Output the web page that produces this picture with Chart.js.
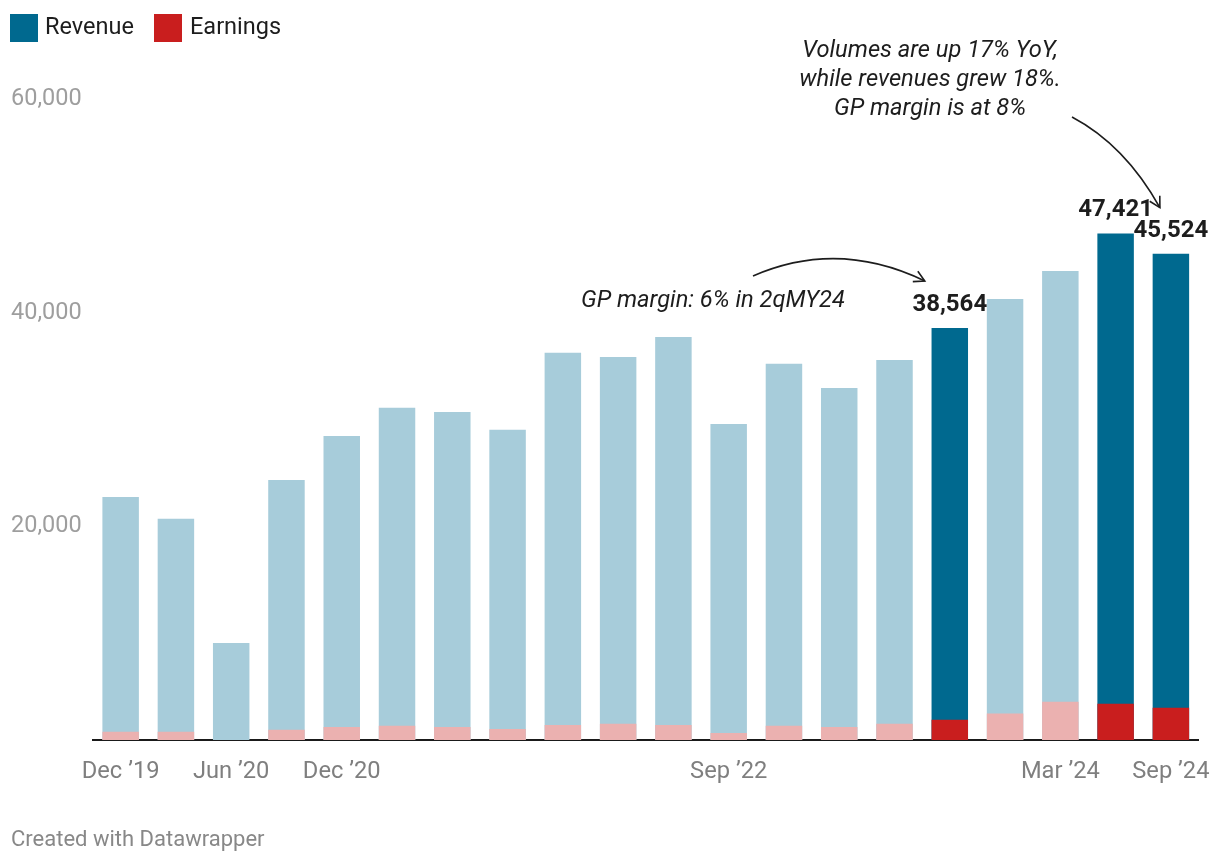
<!DOCTYPE html>
<html>
<head>
<meta charset="utf-8">
<script src="https://cdn.jsdelivr.net/npm/chart.js@4.4.1/dist/chart.umd.min.js"></script>
<style>
  html, body { margin: 0; padding: 0; background: #fff; }
  #wrap { width: 1220px; height: 866px; position: relative; }
</style>
</head>
<body>
<div id="wrap"><canvas id="revChart" width="1220" height="866"></canvas></div>
<script>
// quarterly data
var quarters = ["Dec ’19", "Mar ’20", "Jun ’20", "Sep ’20", "Dec ’20", "Mar ’21", "Jun ’21", "Sep ’21",
    "Dec ’21", "Mar ’22", "Jun ’22", "Sep ’22", "Dec ’22", "Mar ’23", "Jun ’23", "Sep ’23",
    "Dec ’23", "Mar ’24", "Jun ’24", "Sep ’24"];
var shownTicks = ["Dec ’19", "Jun ’20", "Dec ’20", "Sep ’22", "Mar ’24", "Sep ’24"];
var revenue = [22750, 20700, 9080, 24340, 28460, 31090, 30710, 29030, 36240, 35860,
    37730, 29590, 35210, 32960, 35580, 38564, 41290, 43910, 47421, 45524];
var earnings = [780, 780, 0, 970, 1220, 1340, 1220, 1030, 1400, 1530,
    1400, 660, 1340, 1220, 1530, 1900, 2470, 3590, 3400, 3030];
var highlighted = ["Sep ’23", "Jun ’24", "Sep ’24"];
var yTicks = [0, 20000, 40000, 60000];

var FONT = 'Roboto, "Noto Sans", sans-serif';
var revDark = '#00698f', revLight = '#a7ccda';
var earnDark = '#c91e1e', earnLight = '#ebb1b0';

function isHi(i) { return highlighted.indexOf(quarters[i]) !== -1; }

function arrow(ctx, x0, y0, cx, cy, x1, y1) {
    ctx.save();
    ctx.strokeStyle = '#1d1d1d';
    ctx.lineWidth = 1.6;
    ctx.beginPath();
    ctx.moveTo(x0, y0);
    ctx.quadraticCurveTo(cx, cy, x1, y1);
    ctx.stroke();
    var ang = Math.atan2(y1 - cy, x1 - cx);
    var len = 12;
    ctx.beginPath();
    ctx.moveTo(x1 - len * Math.cos(ang - 0.5), y1 - len * Math.sin(ang - 0.5));
    ctx.lineTo(x1, y1);
    ctx.lineTo(x1 - len * Math.cos(ang + 0.5), y1 - len * Math.sin(ang + 0.5));
    ctx.stroke();
    ctx.restore();
}

var extras = {
    id: 'extras',
    afterDatasetsDraw: function(chart) {
        var ctx = chart.ctx;
        var meta = chart.getDatasetMeta(0);
        ctx.save();
        ctx.font = 'bold 24px ' + FONT;
        ctx.fillStyle = '#1d1d1d';
        ctx.textAlign = 'center';
        ctx.textBaseline = 'middle';
        meta.data.forEach(function(bar, i) {
            if (isHi(i)) {
                ctx.fillText(revenue[i].toLocaleString('en-US'), bar.x, bar.y - 23);
            }
        });
        ctx.restore();
    },
    afterDraw: function(chart) {
        var ctx = chart.ctx;
        ctx.save();
        // legend
        ctx.textBaseline = 'middle';
        ctx.textAlign = 'left';
        ctx.font = '23.5px ' + FONT;
        ctx.fillStyle = revDark;
        ctx.fillRect(10, 14, 28, 28);
        ctx.fillStyle = '#1d1d1d';
        ctx.fillText('Revenue', 45, 28);
        ctx.fillStyle = earnDark;
        ctx.fillRect(154, 14, 28, 28);
        ctx.fillStyle = '#1d1d1d';
        ctx.fillText('Earnings', 190, 28);

        // notes
        ctx.font = 'italic 23.7px ' + FONT;
        ctx.textAlign = 'center';
        ctx.fillText('Volumes are up 17% YoY,', 930, 51);
        ctx.fillText('while revenues grew 18%.', 930, 80);
        ctx.fillText('GP margin is at 8%', 930, 109);
        ctx.textAlign = 'left';
        ctx.fillText('GP margin: 6% in 2qMY24', 581, 301);

        var meta = chart.getDatasetMeta(0);
        var b15 = meta.data[15], b19 = meta.data[19];
        arrow(ctx, 753, 276, 838, 239, b15.x - 25, b15.y - 47);
        arrow(ctx, 1072, 117, 1125, 145, b19.x - 11, b19.y - 46);

        // footer
        ctx.font = '22px ' + FONT;
        ctx.fillStyle = '#888';
        ctx.textAlign = 'left';
        ctx.fillText('Created with Datawrapper', 11, 840);
        ctx.restore();
    }
};

var ctx = document.getElementById('revChart').getContext('2d');
var chart = new Chart(ctx, {
    type: 'bar',
    data: {
        labels: quarters,
        datasets: [{
            label: 'Revenue',
            data: revenue,
            backgroundColor: revenue.map(function(_, i) { return isHi(i) ? revDark : revLight; }),
            order: 2
        }, {
            label: 'Earnings',
            data: earnings,
            backgroundColor: earnings.map(function(_, i) { return isHi(i) ? earnDark : earnLight; }),
            order: 1
        }]
    },
    options: {
        responsive: false,
        animation: false,
        devicePixelRatio: 1,
        datasets: {
            bar: { categoryPercentage: 1, barPercentage: 0.66, borderWidth: 0 }
        },
        layout: { padding: { top: 99, left: 11, right: 21, bottom: 56 } },
        scales: {
            x: {
                stacked: true,
                grid: { display: false },
                border: { display: true, color: '#1a1a1a', width: 2 },
                ticks: {
                    autoSkip: false,
                    maxRotation: 0,
                    padding: 10,
                    color: '#7f7f7f',
                    font: { family: FONT, size: 23.7 },
                    callback: function(v) {
                        var l = quarters[v];
                        return shownTicks.indexOf(l) !== -1 ? l : '';
                    }
                },
                afterFit: function(s) { s.height = 70; }
            },
            y: {
                stacked: false,
                min: yTicks[0],
                max: yTicks[yTicks.length - 1],
                grid: { display: false },
                border: { display: false },
                afterBuildTicks: function(s) {
                    s.ticks = yTicks.map(function(v) { return { value: v }; });
                },
                ticks: {
                    crossAlign: 'far',
                    padding: 0,
                    color: '#9e9e9e',
                    font: { family: FONT, size: 23.5 },
                    callback: function(v) { return v === 0 ? '' : v.toLocaleString('en-US'); }
                },
                afterFit: function(s) { s.width = 82; }
            }
        },
        plugins: {
            legend: { display: false },
            tooltip: { enabled: false }
        }
    },
    plugins: [extras]
});
</script>
</body>
</html>
